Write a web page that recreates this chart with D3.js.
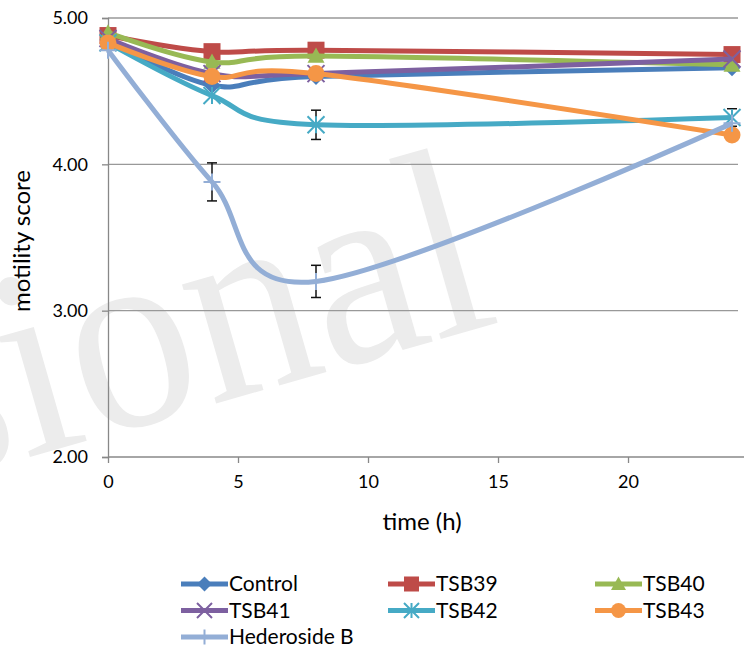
<!DOCTYPE html>
<html>
<head>
<meta charset="utf-8">
<script src="https://cdn.jsdelivr.net/npm/d3@7"></script>
<style>
  body { margin: 0; background: #fff; }
  svg { display: block; font-family: Lato, "Open Sans", sans-serif; }
</style>
</head>
<body>
<svg id="chart" width="750" height="658"></svg>
<script>
// time points (h)
const times = [0, 4, 8, 24];
const seriesNames = ["Control", "TSB39", "TSB40", "TSB41", "TSB42", "TSB43", "Hederoside B"];
const control = [4.85, 4.54, 4.60, 4.66];
const tsb39 = [4.88, 4.77, 4.78, 4.75];
const tsb40 = [4.90, 4.70, 4.74, 4.68];
const tsb41 = [4.86, 4.62, 4.62, 4.72];
const tsb42 = [4.83, 4.47, 4.27, 4.32];
const tsb43 = [4.83, 4.60, 4.62, 4.20];
const hederoside = [4.78, 3.88, 3.20, 4.28];
// error bars (only visible ones)
const tsb42Err = [0, 0, 0.10, 0.06];
const hederosideErr = [0, 0.13, 0.11, 0];
const xTicks = [0, 5, 10, 15, 20];
const yTicks = [2, 3, 4, 5];

const colors = ["#4a7ebb", "#be4b48", "#98b954", "#7d60a0", "#46aac5", "#f59646", "#93aed6"];
const symbols = ["diamond", "square", "triangle", "x", "asterisk", "circle", "plus"];
const values = [control, tsb39, tsb40, tsb41, tsb42, tsb43, hederoside];
const errors = [null, null, null, null, tsb42Err, null, hederosideErr];

const svg = d3.select("#chart");
const x = d3.scaleLinear().domain([0, 24.23]).range([108, 738]);
const y = d3.scaleLinear().domain([2, 5]).range([457, 18]);

// watermark
svg.append("text")
  .attr("transform", "translate(-68,485) rotate(-16) scale(0.92,1)")
  .attr("font-family", "Liberation Serif, serif")
  .attr("font-size", 270)
  .attr("fill", "#ececec")
  .text("sional");

// gridlines
svg.append("g").selectAll("line")
  .data(yTicks.filter(d => d > 2))
  .join("line")
  .attr("x1", 108).attr("x2", 738)
  .attr("y1", d => y(d)).attr("y2", d => y(d))
  .attr("stroke", "#999").attr("stroke-width", 1.3);

// axes
const yAxis = svg.append("g").attr("transform", "translate(108,0)")
  .call(d3.axisLeft(y).tickValues(yTicks).tickFormat(d3.format(".2f")).tickSize(6).tickPadding(14));
const xAxis = svg.append("g").attr("transform", "translate(0,457)")
  .call(d3.axisBottom(x).tickValues(xTicks).tickSize(6).tickPadding(12));
[xAxis, yAxis].forEach(a => {
  a.select(".domain").attr("stroke", "#888").attr("stroke-width", 1.3);
  a.selectAll(".tick line").attr("stroke", "#888").attr("stroke-width", 1.3);
  a.selectAll("text").attr("font-size", 18).attr("fill", "#000").attr("font-family", "Lato, sans-serif");
});
xAxis.select(".domain").attr("d", "M108,0H744");

svg.append("text")
  .attr("x", 422).attr("y", 530)
  .attr("text-anchor", "middle")
  .attr("font-size", 24)
  .text("time (h)");
svg.append("text")
  .attr("transform", "translate(30,241) rotate(-90)")
  .attr("text-anchor", "middle")
  .attr("font-size", 24)
  .text("motility score");

function drawMarker(g, type, color, s) {
  const h = s / 2;
  if (type === "diamond") {
    g.append("path").attr("d", `M0,${-h}L${h},0L0,${h}L${-h},0Z`).attr("fill", color);
  } else if (type === "square") {
    g.append("rect").attr("x", -h).attr("y", -h).attr("width", s).attr("height", s).attr("fill", color);
  } else if (type === "triangle") {
    g.append("path").attr("d", `M0,${-h}L${h},${h * 0.8}L${-h},${h * 0.8}Z`).attr("fill", color);
  } else if (type === "circle") {
    g.append("circle").attr("r", h).attr("fill", color);
  } else if (type === "x") {
    g.append("path").attr("d", `M${-h},${-h}L${h},${h}M${-h},${h}L${h},${-h}`)
      .attr("stroke", color).attr("stroke-width", 2);
  } else if (type === "asterisk") {
    g.append("path").attr("d", `M${-h},${-h}L${h},${h}M${-h},${h}L${h},${-h}M0,${-h}L0,${h}`)
      .attr("stroke", color).attr("stroke-width", 2);
  } else if (type === "plus") {
    g.append("path").attr("d", `M${-h},0L${h},0M0,${-h}L0,${h}`)
      .attr("stroke", color).attr("stroke-width", 2);
  }
}

const line = d3.line()
  .x(d => x(d[0])).y(d => y(d[1]))
  .curve(d3.curveCatmullRom.alpha(0));

values.forEach((vals, i) => {
  const pts = times.map((t, j) => [t, vals[j]]);
  const g = svg.append("g");
  g.append("path")
    .attr("d", line(pts))
    .attr("fill", "none")
    .attr("stroke", colors[i])
    .attr("stroke-width", 5)
    .attr("stroke-linejoin", "round");
  if (errors[i]) {
    pts.forEach((p, j) => {
      const e = errors[i][j];
      if (!e) return;
      const eg = g.append("g").attr("stroke", "#111").attr("stroke-width", 1.5);
      eg.append("line").attr("x1", x(p[0])).attr("x2", x(p[0])).attr("y1", y(p[1] - e)).attr("y2", y(p[1] + e));
      [p[1] - e, p[1] + e].forEach(v => eg.append("line")
        .attr("x1", x(p[0]) - 5).attr("x2", x(p[0]) + 5).attr("y1", y(v)).attr("y2", y(v)));
    });
  }
  pts.forEach(p => {
    drawMarker(g.append("g").attr("transform", `translate(${x(p[0])},${y(p[1])})`), symbols[i], colors[i], 17);
  });
});

// legend
const legend = svg.append("g");
seriesNames.forEach((name, i) => {
  const col = i % 3, row = Math.floor(i / 3);
  const lx = 181 + col * 207, ly = 584 + row * 26.5;
  const g = legend.append("g").attr("transform", `translate(${lx},${ly})`);
  g.append("line").attr("x1", 0).attr("x2", 47).attr("stroke", colors[i]).attr("stroke-width", 5);
  drawMarker(g.append("g").attr("transform", "translate(23.5,0)"), symbols[i], colors[i], 15);
  g.append("text").attr("x", 48).attr("y", 0).attr("dy", "0.35em")
    .attr("font-size", 21).text(name);
});
</script>
</body>
</html>
